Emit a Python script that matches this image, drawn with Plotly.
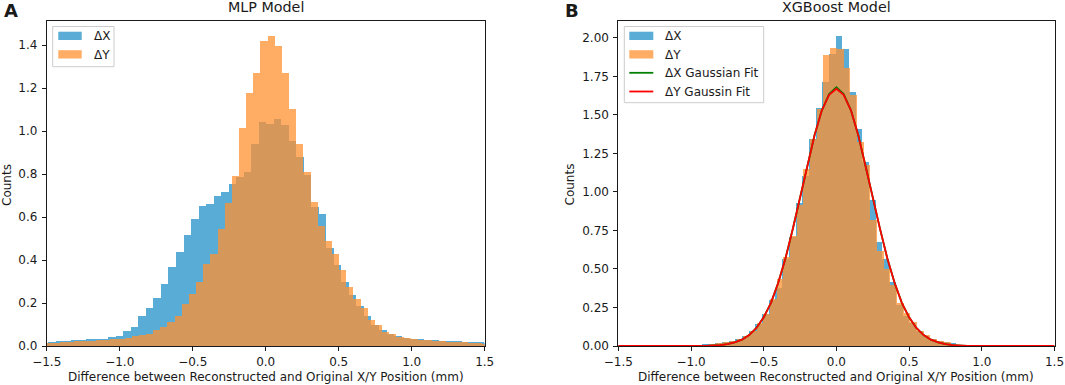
import plotly.graph_objects as go

# ---------------- DATA ----------------
# Panel A (MLP model) - histogram densities
mlp_dx_bin_start = -1.5435
mlp_dx_bin_width = 0.0515
mlp_dx_counts = [
    0.015, 0.020, 0.025, 0.027, 0.029, 0.031, 0.033, 0.035, 0.037, 0.042,
    0.048, 0.070, 0.093, 0.140, 0.180, 0.225, 0.290, 0.370, 0.440, 0.520,
    0.594, 0.654, 0.664, 0.700, 0.720, 0.757, 0.790, 0.810, 0.940, 1.043,
    1.036, 1.059, 1.028, 0.958, 0.880, 0.800, 0.650, 0.617, 0.460, 0.380,
    0.300, 0.240, 0.190, 0.140, 0.100, 0.075, 0.058, 0.048, 0.041, 0.037,
    0.034, 0.031, 0.029, 0.027, 0.025, 0.024, 0.022, 0.021, 0.019, 0.015,
]
mlp_dy_bin_start = -1.508
mlp_dy_bin_width = 0.049
mlp_dy_counts = [
    0.015, 0.018, 0.021, 0.023, 0.024, 0.025, 0.026, 0.028, 0.030, 0.033,
    0.036, 0.040, 0.047, 0.053, 0.059, 0.079, 0.093, 0.116, 0.144, 0.198,
    0.245, 0.299, 0.384, 0.431, 0.547, 0.667, 0.794, 1.015, 1.180, 1.270,
    1.420, 1.446, 1.400, 1.270, 1.105, 0.940, 0.810, 0.671, 0.560, 0.493,
    0.431, 0.357, 0.276, 0.222, 0.180, 0.124, 0.098, 0.067, 0.056, 0.043,
    0.039, 0.034, 0.031, 0.029, 0.027, 0.025, 0.023, 0.022, 0.020, 0.018,
    0.016, 0.012,
]

# Panel B (XGBoost model)
xgb_dx_bin_start = -1.521
xgb_dx_bin_width = 0.046
xgb_dx_counts = [
    0, 0, 0, 0, 0, 0, 0, 0, 0, 0,
    0.001, 0.003, 0.005, 0.014, 0.016, 0.020, 0.026, 0.033, 0.050, 0.070,
    0.100, 0.145, 0.210, 0.300, 0.380, 0.570, 0.710, 0.930, 1.110, 1.350,
    1.550, 1.720, 1.900, 2.015, 1.930, 1.650, 1.415, 1.200, 0.950, 0.680,
    0.570, 0.420, 0.270, 0.200, 0.150, 0.100, 0.070, 0.050, 0.035, 0.028,
    0.020, 0.012, 0.005, 0.002,
    0, 0, 0, 0, 0, 0, 0, 0, 0, 0, 0, 0,
]
xgb_dy_bin_start = -1.513
xgb_dy_bin_width = 0.046
xgb_dy_counts = [
    0, 0, 0, 0, 0, 0, 0, 0, 0, 0,
    0.001, 0.004, 0.006, 0.010, 0.015, 0.020, 0.026, 0.035, 0.050, 0.065,
    0.100, 0.150, 0.210, 0.310, 0.440, 0.580, 0.720, 0.920, 1.150, 1.346,
    1.540, 1.890, 1.935, 1.930, 1.810, 1.633, 1.330, 1.180, 0.820, 0.620,
    0.500, 0.400, 0.280, 0.220, 0.160, 0.100, 0.072, 0.050, 0.035, 0.028,
    0.018, 0.010, 0.005, 0.002,
    0, 0, 0, 0, 0, 0, 0, 0, 0, 0, 0, 0,
]

# Gaussian fit curves
fit_x = [-1.5, -1.0, -0.9, -0.8, -0.75, -0.7, -0.65, -0.6, -0.55, -0.5, -0.45,
         -0.4, -0.35, -0.3, -0.25, -0.2, -0.15, -0.1, -0.05, 0.0, 0.05, 0.1,
         0.15, 0.2, 0.25, 0.3, 0.35, 0.4, 0.45, 0.5, 0.55, 0.6, 0.65, 0.7,
         0.75, 0.8, 0.9, 1.0, 1.5]
fit_dx_y = [0.0, 0.0, 0.001, 0.006, 0.012, 0.023, 0.041, 0.071, 0.117, 0.186,
            0.280, 0.410, 0.570, 0.760, 0.960, 1.170, 1.370, 1.530, 1.635, 1.680,
            1.635, 1.530, 1.370, 1.170, 0.960, 0.760, 0.570, 0.410, 0.280, 0.186,
            0.117, 0.071, 0.041, 0.023, 0.012, 0.006, 0.001, 0.0, 0.0]
fit_dy_y = [0.0, 0.0, 0.001, 0.006, 0.012, 0.023, 0.041, 0.071, 0.117, 0.186,
            0.280, 0.410, 0.570, 0.760, 0.960, 1.170, 1.370, 1.530, 1.630, 1.670,
            1.630, 1.530, 1.370, 1.170, 0.960, 0.760, 0.570, 0.410, 0.280, 0.186,
            0.117, 0.071, 0.041, 0.023, 0.012, 0.006, 0.001, 0.0, 0.0]

x_tick_vals = [-1.5, -1.0, -0.5, 0.0, 0.5, 1.0, 1.5]
x_tick_text = ["\u22121.5", "\u22121.0", "\u22120.5", "0.0", "0.5", "1.0", "1.5"]
ya_tick_vals = [0.0, 0.2, 0.4, 0.6, 0.8, 1.0, 1.2, 1.4]
yb_tick_vals = [0.0, 0.25, 0.5, 0.75, 1.0, 1.25, 1.5, 1.75, 2.0]

# ---------------- STYLE ----------------
W, H = 1065, 385
BLUE = "rgb(88,172,213)"
ORANGE = "rgba(255,144,48,0.75)"
ORANGE_ON_WHITE = "rgb(255,172,100)"
INK = "#1a1a1a"
FONT = "DejaVu Sans"
FS = 12


def px(x):
    return x / W


def py(y):
    return 1 - y / H


def centers(start, width, n):
    return [start + width * (i + 0.5) for i in range(n)]


fig = go.Figure()

# Panel A bars
fig.add_trace(go.Bar(x=centers(mlp_dx_bin_start, mlp_dx_bin_width, len(mlp_dx_counts)),
                     y=mlp_dx_counts, width=mlp_dx_bin_width, name="\u0394X",
                     marker=dict(color=BLUE, line=dict(width=0)), xaxis="x", yaxis="y"))
fig.add_trace(go.Bar(x=centers(mlp_dy_bin_start, mlp_dy_bin_width, len(mlp_dy_counts)),
                     y=mlp_dy_counts, width=mlp_dy_bin_width, name="\u0394Y",
                     marker=dict(color=ORANGE, line=dict(width=0)), xaxis="x", yaxis="y"))

# Panel B bars
fig.add_trace(go.Bar(x=centers(xgb_dx_bin_start, xgb_dx_bin_width, len(xgb_dx_counts)),
                     y=xgb_dx_counts, width=xgb_dx_bin_width, name="\u0394X",
                     marker=dict(color=BLUE, line=dict(width=0)), xaxis="x2", yaxis="y2"))
fig.add_trace(go.Bar(x=centers(xgb_dy_bin_start, xgb_dy_bin_width, len(xgb_dy_counts)),
                     y=xgb_dy_counts, width=xgb_dy_bin_width, name="\u0394Y",
                     marker=dict(color=ORANGE, line=dict(width=0)), xaxis="x2", yaxis="y2"))
fig.add_trace(go.Scatter(x=fit_x, y=fit_dx_y, mode="lines", name="\u0394X Gaussian Fit",
                         line=dict(color="green", width=1.8), xaxis="x2", yaxis="y2"))
fig.add_trace(go.Scatter(x=fit_x, y=fit_dy_y, mode="lines", name="\u0394Y Gaussin Fit",
                         line=dict(color="red", width=1.8), xaxis="x2", yaxis="y2"))

axis_common = dict(
    ticks="outside", ticklen=4, tickwidth=0.9, tickcolor=INK,
    showline=True, mirror=True, linecolor=INK, linewidth=0.9,
    showgrid=False, zeroline=False, automargin=False,
    tickfont=dict(family=FONT, size=FS, color=INK),
)

y_dom = [py(346), py(20.5)]

fig.update_layout(
    width=W, height=H,
    margin=dict(l=0, r=0, t=0, b=0, autoexpand=False),
    paper_bgcolor="white", plot_bgcolor="white",
    barmode="overlay", bargap=0, showlegend=False,
    font=dict(family=FONT, size=FS, color=INK),
    xaxis=dict(domain=[px(46.7), px(484.7)], range=[-1.5, 1.5], anchor="y",
               tickvals=x_tick_vals, ticktext=x_tick_text, ticklabelstandoff=1, **axis_common),
    yaxis=dict(domain=y_dom, range=[0, 1.514], anchor="x",
               tickvals=ya_tick_vals, tickformat=".1f", ticklabelstandoff=2, **axis_common),
    xaxis2=dict(domain=[px(618.3), px(1054.5)], range=[-1.5, 1.5], anchor="y2",
                tickvals=x_tick_vals, ticktext=x_tick_text, ticklabelstandoff=1, **axis_common),
    yaxis2=dict(domain=y_dom, range=[0, 2.113], anchor="x2",
                tickvals=yb_tick_vals, tickformat=".2f", ticklabelstandoff=2, **axis_common),
)

ann = []
shapes = []


def text(x, y, s, size=FS, xanchor="center", bold=False, angle=0):
    ann.append(dict(x=px(x), y=py(y), xref="paper", yref="paper", text=(f"<b>{s}</b>" if bold else s),
                    showarrow=False, xanchor=xanchor, yanchor="middle", textangle=angle,
                    font=dict(family=FONT, size=size, color=INK)))


# titles and panel letters
text(265.7, 7.5, "MLP Model", size=14.3)
text(836.4, 7.5, "XGBoost Model", size=14.3)
text(1.5, 10.5, "A", size=18, xanchor="left", bold=True)
text(563, 10.5, "B", size=18, xanchor="left", bold=True)
# axis titles
text(265.7, 376.5, "Difference between Reconstructed and Original X/Y Position (mm)")
text(836.4, 376.5, "Difference between Reconstructed and Original X/Y Position (mm)")
text(7, 185, "Counts", angle=-90)
text(569.5, 185, "Counts", angle=-90)


def rect(x0, y0, x1, y1, fill, line=None, lw=0):
    shapes.append(dict(type="rect", xref="paper", yref="paper",
                       x0=px(x0), x1=px(x1), y0=py(y1), y1=py(y0),
                       fillcolor=fill, line=dict(color=line or fill, width=lw), layer="above"))


def hline(x0, x1, y, color):
    shapes.append(dict(type="line", xref="paper", yref="paper",
                       x0=px(x0), x1=px(x1), y0=py(y), y1=py(y),
                       line=dict(color=color, width=1.8), layer="above"))


# legend A
rect(52.7, 26.5, 114, 66.7, "rgba(255,255,255,0.8)", "#cccccc", 1)
rect(58.3, 31.7, 81.7, 40, BLUE)
rect(58.3, 50.2, 81.7, 58.5, ORANGE_ON_WHITE)
text(91.5, 36, "\u0394X", xanchor="left")
text(91.5, 54.5, "\u0394Y", xanchor="left")

# legend B
rect(624.3, 26.5, 763.7, 102.7, "rgba(255,255,255,0.8)", "#cccccc", 1)
rect(629.3, 31.7, 653.3, 40, BLUE)
rect(629.3, 50.2, 653.3, 58.5, ORANGE_ON_WHITE)
hline(629.3, 653.3, 72.8, "green")
hline(629.3, 653.3, 91.5, "red")
text(662.7, 36, "\u0394X", xanchor="left")
text(662.7, 54.5, "\u0394Y", xanchor="left")
text(662.7, 73.3, "\u0394X Gaussian Fit", xanchor="left")
text(662.7, 91.8, "\u0394Y Gaussin Fit", xanchor="left")

fig.update_layout(annotations=ann, shapes=shapes)

fig.write_html("out.html", config={"displayModeBar": False})

# remove the browser's default page margin so the figure fills the window exactly
with open("out.html", "r", encoding="utf-8") as f:
    page = f.read()
page = page.replace("<head>", "<head><style>html,body{margin:0;padding:0;overflow:hidden;}</style>", 1)
with open("out.html", "w", encoding="utf-8") as f:
    f.write(page)
